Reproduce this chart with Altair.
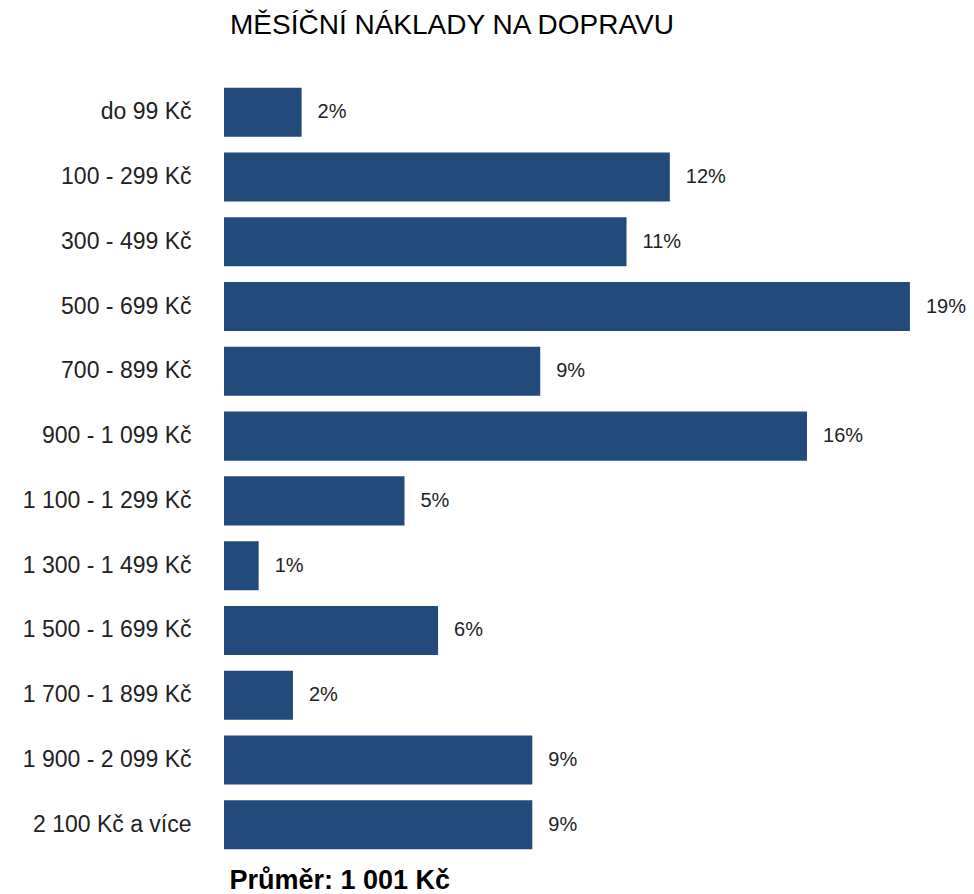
import altair as alt
import pandas as pd

categories = [
    "do 99 Kč", "100 - 299 Kč", "300 - 499 Kč", "500 - 699 Kč",
    "700 - 899 Kč", "900 - 1 099 Kč", "1 100 - 1 299 Kč", "1 300 - 1 499 Kč",
    "1 500 - 1 699 Kč", "1 700 - 1 899 Kč", "1 900 - 2 099 Kč", "2 100 Kč a více",
]
shares = [2.15, 12.35, 11.15, 19.0, 8.76, 16.15, 5.0, 0.96, 5.93, 1.91, 8.54, 8.54]
share_labels = ["2%", "12%", "11%", "19%", "9%", "16%", "5%", "1%", "6%", "2%", "9%", "9%"]

title_text = "MĚSÍČNÍ NÁKLADY NA DOPRAVU"
footer_text = "Průměr: 1 001 Kč"

df = pd.DataFrame({"cat": categories, "share": shares, "label": share_labels})

FONT = "Liberation Sans"

base = alt.Chart(df).encode(
    y=alt.Y(
        "cat:N",
        sort=categories,
        scale=alt.Scale(paddingInner=0.243, paddingOuter=0.12),
        axis=alt.Axis(
            title=None, ticks=False, domain=False, grid=False,
            labelFont=FONT, labelFontSize=23, labelColor="#222222",
            labelPadding=33, minExtent=216, maxExtent=216, labelLimit=400,
        ),
    )
)

bars = base.mark_bar(color="#224a7b").encode(
    x=alt.X(
        "share:Q",
        scale=alt.Scale(domain=[0, 20], nice=False),
        axis=alt.Axis(
            title=footer_text, labels=False, ticks=False, domain=False, grid=False,
            titleFont=FONT, titleFontSize=27, titleFontWeight="bold", titleColor="black",
            titleAnchor="start", titleAlign="left", titleX=5, titleY=31,
            titleBaseline="alphabetic",
        ),
    )
)

text = base.mark_text(
    align="left", baseline="middle", dx=16, fontSize=20, font=FONT, color="#222222"
).encode(x="share:Q", text="label:N")

chart = alt.layer(bars, text).properties(
    width=722,
    height=777,
    padding={"top": 4, "left": 0, "right": 0, "bottom": 0},
    title=alt.TitleParams(
        title_text, anchor="start", frame="group", dx=6, fontSize=28,
        fontWeight="normal", font=FONT, color="black", offset=40,
    ),
).configure_view(stroke=None)

chart.save("out.html", embed_options={"renderer": "svg", "actions": False})
